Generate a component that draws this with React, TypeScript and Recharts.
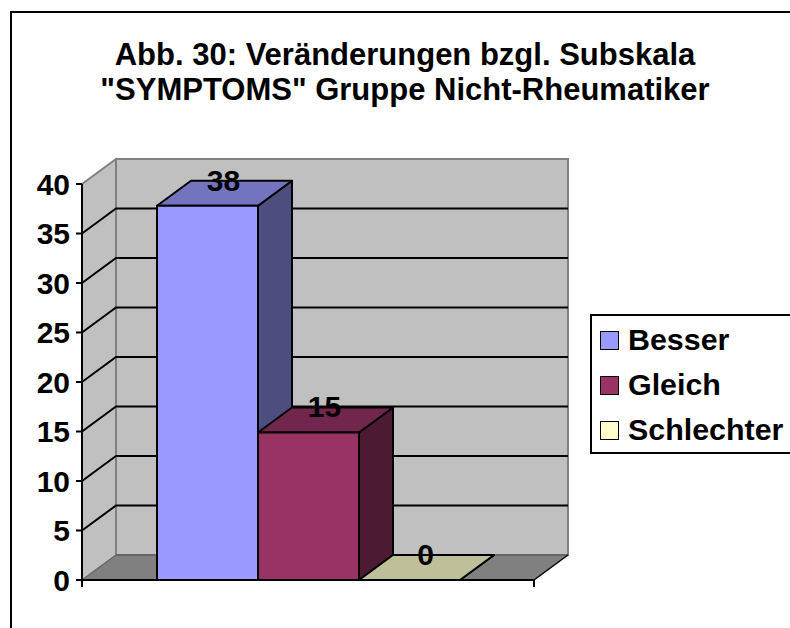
import { BarChart, Bar, XAxis, YAxis, ReferenceArea, ReferenceLine, LabelList } from "recharts";

const titleLines = ["Abb. 30: Veränderungen bzgl. Subskala", '"SYMPTOMS" Gruppe Nicht-Rheumatiker'];
const seriesNames = ["Besser", "Gleich", "Schlechter"];
const seriesValues = [37.8, 14.9, 0];
const yTicks = [0, 5, 10, 15, 20, 25, 30, 35, 40];
const innerGridTicks = [5, 10, 15, 20, 25, 30, 35];
const frontColors = ["#9999FF", "#993366", "#FFFFCC"];
const topColors = ["#7373BF", "#73264D", "#BFBF99"];
const sideColors = ["#4D4D80", "#4D1A33", "#80806A"];

const data = [
  seriesNames.reduce<Record<string, number | string>>(
    (row, name, i) => {
      row[name] = seriesValues[i];
      return row;
    },
    { group: "" },
  ),
];

const FONT = "'Liberation Sans', Arial, sans-serif";
const DX = 34;
const DY = 25;
const M = { top: 184, right: 256, left: 0, bottom: 0 };
const CHART_H = 628;
const X_H = 48;

// walls and floor of the 3d box, drawn behind everything
function Walls(props: any) {
  const { x, y, width, height } = props;
  const r = x + width;
  const b = y + height;
  return (
    <g>
      <polygon points={`${x},${y} ${x + DX},${y - DY} ${x + DX},${b - DY} ${x},${b}`} fill="#C0C0C0" stroke="none" />
      <rect x={x + DX} y={y - DY} width={width} height={height} fill="#C0C0C0" stroke="#808080" strokeWidth={2} />
      <polygon points={`${x},${b} ${x + DX},${b - DY} ${r + DX},${b - DY} ${r},${b}`} fill="#808080" stroke="none" />
      <line x1={x} y1={y} x2={x + DX} y2={y - DY} stroke="#808080" strokeWidth={2} />
      <line x1={x + DX} y1={y - DY} x2={x + DX} y2={b - DY} stroke="#808080" strokeWidth={2} />
      <line x1={x + DX} y1={b - DY} x2={r + DX} y2={b - DY} stroke="#666666" strokeWidth={2} />
      <line x1={x} y1={b} x2={x + DX} y2={b - DY} stroke="#666666" strokeWidth={1.5} />
      <line x1={r} y1={b} x2={r + DX} y2={b - DY} stroke="#000" strokeWidth={1.5} />
      <line x1={x} y1={b} x2={x} y2={b + 7} stroke="#000" strokeWidth={2} />
      <line x1={r} y1={b} x2={r} y2={b + 7} stroke="#000" strokeWidth={2} />
    </g>
  );
}

// a gridline runs up the side wall and then along the back wall
function gridLine(props: any) {
  const { x1, y1, x2 } = props;
  return (
    <polyline
      points={`${x1},${y1} ${x1 + DX},${y1 - DY} ${x2 + DX},${y1 - DY}`}
      fill="none"
      stroke="#000"
      strokeWidth={2}
    />
  );
}

const barShape = (i: number) => (props: any) => {
  const { x, y, width, height } = props;
  const r = x + width;
  const b = y + height;
  const st = { stroke: "#000", strokeWidth: 2, strokeLinejoin: "round" as const };
  return (
    <g>
      <polygon points={`${r},${y} ${r + DX},${y - DY} ${r + DX},${b - DY} ${r},${b}`} fill={sideColors[i]} {...st} />
      <polygon points={`${x},${y} ${x + DX},${y - DY} ${r + DX},${y - DY} ${r},${y}`} fill={topColors[i]} {...st} />
      <rect x={x} y={y} width={width} height={height} fill={frontColors[i]} {...st} />
    </g>
  );
};

function barLabel(props: any) {
  const { x, y, width, value } = props;
  return (
    <text x={x + width / 2 + 16} y={y - 15} textAnchor="middle" fontFamily={FONT} fontWeight="bold" fontSize={30} fill="#000">
      {Math.round(value)}
    </text>
  );
}

function LegendBox() {
  return (
    <div
      style={{
        position: "absolute",
        left: 590,
        top: 314,
        width: 198,
        height: 136,
        border: "2px solid #000",
        background: "#fff",
        boxSizing: "content-box",
        fontFamily: FONT,
        fontWeight: "bold",
        fontSize: 30.4,
        color: "#000",
      }}
    >
      {seriesNames.map((name, i) => (
        <div key={name} style={{ position: "absolute", left: 0, top: 15 + i * 45, height: 19, lineHeight: "19px", whiteSpace: "nowrap" }}>
          <span
            style={{
              position: "absolute",
              left: 8,
              top: 0,
              width: 17,
              height: 17,
              border: "1.5px solid #000",
              background: frontColors[i],
            }}
          />
          <span style={{ position: "absolute", left: 36, top: -1 }}>{name}</span>
        </div>
      ))}
    </div>
  );
}

export default function App() {
  return (
    <div style={{ position: "absolute", left: 0, top: 0, width: 790, height: CHART_H, overflow: "hidden", background: "#fff" }}>
      <div style={{ position: "absolute", left: 10, top: 11, right: 0, bottom: 0, borderLeft: "2px solid #000", borderTop: "2px solid #000" }} />
      <div
        style={{
          position: "absolute",
          left: 12,
          width: 786,
          top: 37,
          textAlign: "center",
          fontFamily: FONT,
          fontWeight: "bold",
          fontSize: 31,
          lineHeight: "35px",
          color: "#000",
        }}
      >
        {titleLines.map((t) => (
          <div key={t}>{t}</div>
        ))}
      </div>
      <BarChart
        width={790}
        height={CHART_H}
        data={data}
        margin={M}
        barSize={101}
        barGap={0}
        style={{ position: "absolute", left: 0, top: 0 }}
      >
        <XAxis dataKey="group" height={X_H} tick={false} tickLine={false} axisLine={{ stroke: "#000", strokeWidth: 2 }} />
        <YAxis
          width={82}
          domain={[0, 40]}
          ticks={yTicks}
          interval={0}
          tickSize={6}
          tickMargin={6}
          tickLine={{ stroke: "#000", strokeWidth: 2 }}
          axisLine={{ stroke: "#000", strokeWidth: 2 }}
          tick={{ fontFamily: FONT, fontWeight: "bold", fontSize: 30, fill: "#000" }}
        />
        <ReferenceArea y1={0} y2={40} shape={Walls} fill="none" stroke="none" />
        {innerGridTicks.map((t) => (
          <ReferenceLine key={t} y={t} shape={gridLine} zIndex={150} />
        ))}
        {seriesNames.map((name, i) => (
          <Bar key={name} dataKey={name} fill={frontColors[i]} shape={barShape(i)} isAnimationActive={false}>
            <LabelList dataKey={name} content={barLabel} />
          </Bar>
        ))}
      </BarChart>
      <LegendBox />
    </div>
  );
}
